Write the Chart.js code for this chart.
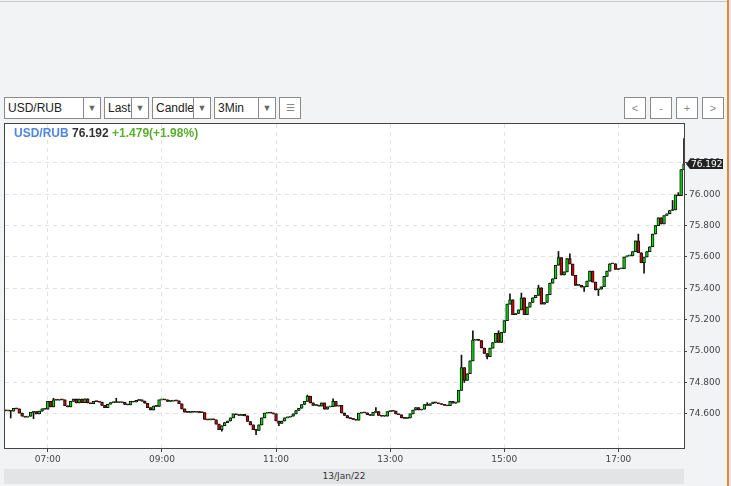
<!DOCTYPE html>
<html>
<head>
<meta charset="utf-8">
<script src="https://cdn.jsdelivr.net/npm/chart.js@4.4.0/dist/chart.umd.min.js"></script>
<style>
html, body { margin: 0; padding: 0; }
body { width: 731px; height: 486px; background: #f2f3f5; position: relative; overflow: hidden; font-family: "Liberation Sans", Arial, sans-serif; }
#topline { position: absolute; left: 0; top: 1px; width: 727px; height: 1px; background: #c8c8c8; }
#edge { position: absolute; left: 727px; top: 0; width: 2px; height: 486px; background: #e8862a; }
#edge2 { position: absolute; left: 729px; top: 0; width: 2px; height: 486px; background: #dfe8f2; }
.sel { position: absolute; top: 97px; height: 20px; border: 1px solid #8a8a8a; background: #fff; font-size: 12px; line-height: 20px; color: #222; overflow: hidden; }
.sel .t { position: absolute; left: 3px; top: 0; }
.sel .a { position: absolute; top: 0; right: 0; width: 16px; height: 20px; border-left: 1px solid #8a8a8a; text-align: center; color: #666; font-size: 9px; }
.btn { position: absolute; top: 97px; width: 20px; height: 20px; border: 1px solid #8a8a8a; background: #fff; color: #888; font-size: 11px; line-height: 20px; text-align: center; }
#box { position: absolute; left: 4px; top: 123px; width: 680px; height: 325px; border-top: 1px solid #444; border-left: 1px solid #444; background: #fff; }
#wrap { position: absolute; left: 5px; top: 124px; width: 719px; height: 344px; }
#legend { position: absolute; left: 14px; top: 126px; font-weight: bold; font-size: 12px; white-space: nowrap; }
#datebar { position: absolute; left: 4px; top: 469px; width: 680px; height: 15px; background: #e3e4e6; text-align: center; font-family: "DejaVu Sans", sans-serif; font-size: 9px; line-height: 15px; color: #333; }
</style>
</head>
<body>
<div id="topline"></div>
<div id="edge"></div>
<div id="edge2"></div>

<div class="sel" style="left:4px;width:95px"><span class="t">USD/RUB</span><span class="a">&#9660;</span></div>
<div class="sel" style="left:104px;width:43px"><span class="t">Last</span><span class="a">&#9660;</span></div>
<div class="sel" style="left:152px;width:57px"><span class="t">Candle</span><span class="a">&#9660;</span></div>
<div class="sel" style="left:214px;width:60px"><span class="t">3Min</span><span class="a">&#9660;</span></div>
<div class="btn" style="left:279px;font-size:10px">&#9776;</div>
<div class="btn" style="left:624px">&lt;</div>
<div class="btn" style="left:650px">-</div>
<div class="btn" style="left:676px">+</div>
<div class="btn" style="left:702px">&gt;</div>

<div id="box"></div>
<div id="wrap"><canvas id="candles"></canvas></div>
<div id="legend"><span style="color:#4f86e0">USD/RUB</span> <span style="color:#333">76.192</span> <span style="color:#5cae2e">+1.479(+1.98%)</span></div>
<div id="datebar">13/Jan/22</div>

<script>
// 3-minute candles, USD/RUB, 13 Jan 2022 06:15 -> 18:09
var startMinutes = 6 * 60 + 15;
var stepMinutes = 3;
var firstOpen = 74.625;

var closes = [
  74.620, 74.622, 74.618, 74.635, 74.632, 74.605, 74.585, 74.580, 74.585, 74.610,
  74.615, 74.600, 74.618, 74.632, 74.630, 74.680, 74.645, 74.690, 74.688, 74.692,
  74.690, 74.652, 74.645, 74.680, 74.695, 74.670, 74.695, 74.672, 74.696, 74.670,
  74.665, 74.680, 74.678, 74.675, 74.655, 74.640, 74.662, 74.672, 74.673, 74.674,
  74.673, 74.674, 74.660, 74.658, 74.680, 74.676, 74.686, 74.690, 74.682, 74.668,
  74.640, 74.625, 74.650, 74.648, 74.690, 74.692, 74.690, 74.680, 74.682, 74.684,
  74.683, 74.665, 74.632, 74.612, 74.610, 74.612, 74.611, 74.612, 74.610, 74.608,
  74.565, 74.562, 74.568, 74.563, 74.535, 74.500, 74.525, 74.545, 74.555, 74.575,
  74.600, 74.595, 74.590, 74.598, 74.588, 74.552, 74.530, 74.500, 74.495, 74.530,
  74.575, 74.605, 74.608, 74.606, 74.600, 74.555, 74.540, 74.555, 74.575, 74.580,
  74.585, 74.600, 74.622, 74.636, 74.660, 74.680, 74.713, 74.670, 74.655, 74.656,
  74.650, 74.670, 74.630, 74.645, 74.646, 74.680, 74.650, 74.655, 74.606, 74.590,
  74.575, 74.570, 74.565, 74.560, 74.605, 74.608, 74.607, 74.595, 74.590, 74.610,
  74.615, 74.590, 74.585, 74.586, 74.615, 74.620, 74.618, 74.600, 74.595, 74.575,
  74.572, 74.575, 74.600, 74.625, 74.640, 74.625, 74.630, 74.660, 74.655, 74.665,
  74.675, 74.670, 74.665, 74.660, 74.655, 74.652, 74.680, 74.668, 74.675, 74.750,
  74.895, 74.814, 74.856, 74.938, 75.070, 75.075, 75.068, 75.020, 74.985, 74.965,
  75.019, 75.055, 75.113, 75.055, 75.120, 75.194, 75.300, 75.327, 75.233, 75.240,
  75.263, 75.340, 75.233, 75.280, 75.310, 75.340, 75.355, 75.404, 75.300, 75.310,
  75.360, 75.433, 75.461, 75.547, 75.596, 75.485, 75.505, 75.590, 75.555, 75.483,
  75.419, 75.420, 75.408, 75.410, 75.446, 75.510, 75.440, 75.390, 75.395, 75.410,
  75.476, 75.510, 75.557, 75.557, 75.520, 75.525, 75.525, 75.600, 75.607, 75.607,
  75.634, 75.702, 75.627, 75.563, 75.600, 75.634, 75.665, 75.746, 75.800, 75.850,
  75.810, 75.864, 75.875, 75.896, 75.900, 75.995, 75.990, 76.156, 76.192
];

// visible wicks (candle index -> price)
var highWicks = {
  17: 74.700, 39: 74.700, 106: 74.720, 115: 74.696, 130: 74.640, 148: 74.672,
  160: 74.975, 164: 75.130, 173: 75.130, 177: 75.365, 181: 75.370, 187: 75.420,
  194: 75.635, 198: 75.620, 222: 75.746, 234: 75.960, 236: 76.010, 238: 76.354
};
var lowWicks = {
  2: 74.574, 10: 74.570, 76: 74.490, 88: 74.468, 96: 74.525, 161: 74.800,
  169: 74.950, 203: 75.380, 208: 75.354, 224: 75.497
};

var hourLabels = ["07:00", "09:00", "11:00", "13:00", "15:00", "17:00"];
var yMin = 74.383, yMax = 76.447;

var times = [];
for (var i = 0; i < closes.length; i++) {
  var m = startMinutes + i * stepMinutes;
  var h = Math.floor(m / 60), mm = m % 60;
  times.push((h < 10 ? "0" : "") + h + ":" + (mm < 10 ? "0" : "") + mm);
}

var bodies = [], wicks = [], colors = [];
for (var i = 0; i < closes.length; i++) {
  var o = i === 0 ? firstOpen : closes[i - 1];
  var c = closes[i];
  var hi = highWicks[i] !== undefined ? highWicks[i] : Math.max(o, c);
  var lo = lowWicks[i] !== undefined ? lowWicks[i] : Math.min(o, c);
  bodies.push([o, c]);
  wicks.push([lo, hi]);
  colors.push(c >= o ? "#00e000" : "#d80000");
}

var priceTag = {
  id: "priceTag",
  afterDraw: function (chart) {
    var g = chart.ctx, area = chart.chartArea;
    var last = closes[closes.length - 1];
    var y = chart.scales.y.getPixelForValue(last);
    var x0 = area.right + 2, x1 = area.right + 6, x2 = area.right + 39;
    g.save();
    g.fillStyle = "#222";
    g.beginPath();
    g.moveTo(x0, y);
    g.lineTo(x1, y - 5);
    g.lineTo(x2, y - 5);
    g.lineTo(x2, y + 5);
    g.lineTo(x1, y + 5);
    g.closePath();
    g.fill();
    g.fillStyle = "#fff";
    g.font = "9px 'DejaVu Sans'";
    g.textBaseline = "middle";
    g.textAlign = "left";
    g.fillText(last.toFixed(3), x1 + 1, y + 0.5);
    g.restore();
  }
};

new Chart(document.getElementById("candles"), {
  type: "bar",
  data: {
    labels: times,
    datasets: [{
      data: wicks,
      backgroundColor: "#111",
      barThickness: 1,
      grouped: false,
      order: 2
    }, {
      data: bodies,
      backgroundColor: colors,
      borderColor: "#111",
      borderWidth: 1,
      borderSkipped: false,
      barPercentage: 1,
      categoryPercentage: 1,
      minBarLength: 1,
      grouped: false,
      order: 1
    }]
  },
  options: {
    responsive: true,
    maintainAspectRatio: false,
    animation: false,
    layout: { padding: 0 },
    plugins: { legend: { display: false }, tooltip: { enabled: false } },
    scales: {
      x: {
        type: "category",
        offset: false,
        afterFit: function (s) { s.height = 20; s.paddingLeft = 0; s.paddingRight = 0; },
        afterBuildTicks: function (s) {
          s.ticks = s.ticks.filter(function (t) { return hourLabels.indexOf(times[t.value]) >= 0; });
        },
        grid: { color: "#e2e2e2", tickColor: "#444", tickLength: 4, offset: false },
        border: { color: "#444", width: 1, dash: [4, 4] },
        ticks: {
          autoSkip: false, maxRotation: 0, padding: 2,
          color: "#444", font: { family: "DejaVu Sans", size: 9 }
        }
      },
      y: {
        position: "right",
        min: yMin,
        max: yMax,
        afterFit: function (s) { s.width = 40; s.paddingTop = 0; s.paddingBottom = 0; },
        afterBuildTicks: function (s) {
          s.ticks = s.ticks.filter(function (t) { return t.value > 74.5 && t.value < 76.3; });
        },
        grid: { color: "#e2e2e2", tickColor: "#444", tickLength: 3 },
        border: { color: "#444", width: 1, dash: [4, 4] },
        ticks: {
          stepSize: 0.2, includeBounds: false, padding: 2,
          color: "#444", font: { family: "DejaVu Sans", size: 9 },
          callback: function (v) { return Number(v).toFixed(3); }
        }
      }
    }
  },
  plugins: [priceTag]
});
</script>
</body>
</html>
